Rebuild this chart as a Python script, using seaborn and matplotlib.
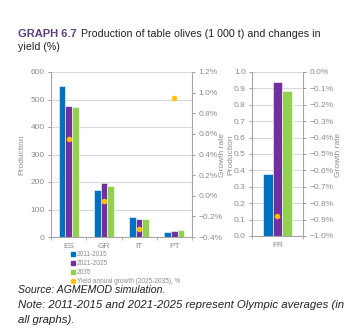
import matplotlib
matplotlib.use("Agg")
import matplotlib.pyplot as plt
import matplotlib.ticker as mticker
from matplotlib.lines import Line2D
import seaborn as sns
import pandas as pd

sns.set_theme(style="white")
plt.rcParams['font.family'] = ['Liberation Sans', 'DejaVu Sans']

# ---- data ----
countries_main = ["ES", "GR", "IT", "PT"]
countries_fr = ["FR"]
periods = ["2011-2015", "2021-2025", "2035"]
prod_2011 = [550, 172, 71, 17]
prod_2021 = [478, 197, 67, 22]
prod_2035 = [472, 186, 65, 25]
yield_main = [0.55, -0.05, -0.32, 0.95]
fr_prod_2011 = [0.38]
fr_prod_2021 = [0.937]
fr_prod_2035 = [0.882]
yield_fr = [-0.88]
yield_label = "Yield annual growth (2025-2035), %"

colors = ["#0070C0", "#7030A0", "#92D050"]
dot_color = "#FFC000"
tick_color = "#8C8C8C"
grid_color = "#D9D9D9"

def long_df(cats, a, b, c):
    rows = []
    for i, cat in enumerate(cats):
        for p, vals in zip(periods, [a, b, c]):
            rows.append({"country": cat, "period": p, "value": vals[i]})
    return pd.DataFrame(rows)

df_main = long_df(countries_main, prod_2011, prod_2021, prod_2035)
df_fr = long_df(countries_fr, fr_prod_2011, fr_prod_2021, fr_prod_2035)
dy_main = pd.DataFrame({"country": countries_main, "yield": yield_main})
dy_fr = pd.DataFrame({"country": countries_fr, "yield": yield_fr})

W, H = 356, 330
fig = plt.figure(figsize=(W / 100, H / 100), dpi=100)
ax1 = fig.add_axes([51 / W, 1 - 237 / H, 141 / W, 165 / H])
ax3 = fig.add_axes([252 / W, 1 - 236 / H, 51 / W, 164 / H])

fs = 6

def style_axes(ax, ax2, ylim, ystep, y2lim, y2step, n):
    ax.set_ylim(*ylim)
    ax.set_xlim(-0.5, n - 0.5)
    ax.yaxis.set_major_locator(mticker.MultipleLocator(ystep))
    ax.grid(axis="y", color=grid_color, linewidth=0.8, zorder=0)
    ax.set_axisbelow(True)
    for s in ["top", "right"]:
        ax.spines[s].set_visible(False)
    for s in ["left", "bottom"]:
        ax.spines[s].set_color("#A6A6A6")
        ax.spines[s].set_linewidth(0.8)
    ax.tick_params(axis="y", colors=tick_color, labelsize=fs, length=2.5, width=0.6, pad=2, left=True)
    ax.tick_params(axis="x", colors=tick_color, labelsize=fs, length=0, pad=4)
    ax.set_xticks(range(n))
    ax.set_xticks([i - 0.5 for i in range(n + 1)], minor=True)
    ax.tick_params(axis="x", which="minor", length=2.5, width=0.6, color="#A6A6A6", bottom=True)
    ax.set_xlabel("")
    ax.set_ylabel("")
    ax2.set_ylim(*y2lim)
    ax2.yaxis.set_major_locator(mticker.MultipleLocator(y2step))
    ax2.yaxis.set_major_formatter(mticker.FuncFormatter(lambda v, p: f"{v:.1f}%".replace("-", "\u2212")))
    for s in ["top", "left", "bottom"]:
        ax2.spines[s].set_visible(False)
    ax2.spines["right"].set_color("#A6A6A6")
    ax2.spines["right"].set_linewidth(0.8)
    ax2.tick_params(axis="y", colors=tick_color, labelsize=fs, length=2.5, width=0.6, pad=2, right=True)
    ax2.set_ylabel("")
    ax2.grid(False)

# main chart
sns.barplot(data=df_main, x="country", y="value", hue="period", palette=colors,
            width=0.57, ax=ax1, legend=False, edgecolor="white", linewidth=0.4,
            saturation=1, zorder=2)
ax2 = ax1.twinx()
sns.stripplot(data=dy_main, x="country", y="yield", ax=ax2, color=dot_color,
              jitter=False, size=4, linewidth=0, zorder=3)
style_axes(ax1, ax2, (0, 600), 100, (-0.4, 1.2), 0.2, 4)
ax1.set_xlim(-0.5, 3.5)

# FR chart
sns.barplot(data=df_fr, x="country", y="value", hue="period", palette=colors,
            width=0.57, ax=ax3, legend=False, edgecolor="white", linewidth=0.4,
            saturation=1, zorder=2)
ax4 = ax3.twinx()
sns.stripplot(data=dy_fr, x="country", y="yield", ax=ax4, color=dot_color,
              jitter=False, size=4, linewidth=0, zorder=3)
style_axes(ax3, ax4, (0, 1.0), 0.1, (-1.0, 0.0), 0.1, 1)
ax3.set_xlim(-0.5, 0.5)
ax3.yaxis.set_major_formatter(mticker.FormatStrFormatter("%.1f"))

# axis titles (placed in figure pixels, as in the reference)
lab_kw = dict(fontsize=fs, color=tick_color, rotation=90, va="center", ha="center")
fig.text(22 / W, 1 - 155 / H, "Production", **lab_kw)
fig.text(223 / W, 1 - 155 / H, "Growth rate", **lab_kw)
fig.text(231 / W, 1 - 155 / H, "Production", **lab_kw)
fig.text(339 / W, 1 - 155 / H, "Growth rate", **lab_kw)

# legend
handles = [Line2D([0], [0], marker="s", linestyle="", color=c, markersize=3) for c in colors]
handles.append(Line2D([0], [0], marker="o", linestyle="", color=dot_color, markersize=3))
leg = fig.legend(handles, periods + [yield_label], loc="upper left",
                 bbox_to_anchor=(70 / W, 1 - 251 / H), frameon=False,
                 fontsize=4.7, labelspacing=0.3, handletextpad=0.2,
                 handlelength=0.8, borderpad=0, borderaxespad=0)
for t in leg.get_texts():
    t.set_color(tick_color)

# title
fig.text(18 / W, 1 - 34 / H, "GRAPH 6.7", fontsize=8.0, fontweight="bold",
         color="#5B3F7F", va="center", ha="left")
fig.text(81 / W, 1 - 34 / H, "Production of table olives (1 000 t) and changes in",
         fontsize=7.7, color="#222222", va="center", ha="left")
fig.text(18 / W, 1 - 47 / H, "yield (%)", fontsize=7.7, color="#222222",
         va="center", ha="left")

# source / notes
note_kw = dict(fontsize=7.6, style="italic", color="#222222", va="center", ha="left")
fig.text(18 / W, 1 - 290 / H, "Source: AGMEMOD simulation.", **note_kw)
note_kw["fontsize"] = 8.2
fig.text(18 / W, 1 - 305 / H,
         "Note: 2011-2015 and 2021-2025 represent Olympic averages (in", **note_kw)
fig.text(18 / W, 1 - 320 / H, "all graphs).", **note_kw)

fig.savefig("out.png", dpi=100)
